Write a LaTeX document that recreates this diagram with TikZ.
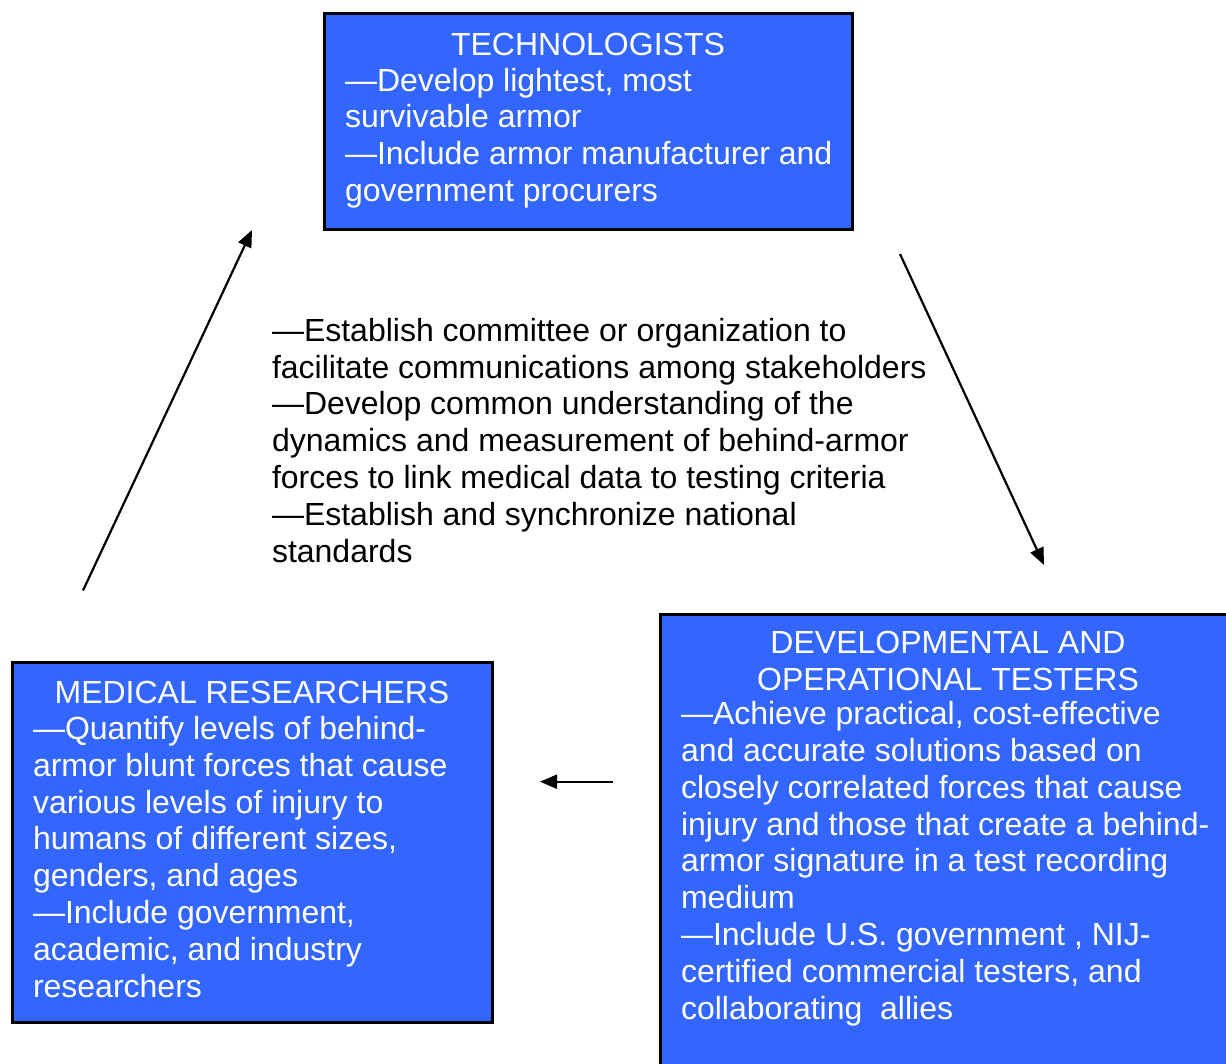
\documentclass[tikz,border=0pt]{standalone}
\usepackage{fontspec}
\setmainfont{Liberation Sans}
\usetikzlibrary{arrows.meta}
\definecolor{boxblue}{HTML}{3366FF}
\begin{document}
\begin{tikzpicture}[x=1pt,y=-1pt,
  boxstyle/.style={draw=black,line width=3pt,fill=boxblue,inner sep=0pt,outer sep=0pt,rectangle},
  txt/.style={font=\fontsize{32}{36.8}\selectfont\frenchspacing,inner sep=0pt,outer sep=0pt},
  wtxt/.style={txt,text=white},
  arr/.style={line width=2.2pt,-{Triangle[length=17pt,width=14pt]}}]
\useasboundingbox (0,0) rectangle (1226,1064);
\clip (0,0) rectangle (1226,1064);
\fill[white] (0,0) rectangle (1226,1064);
% boxes
\node[boxstyle,minimum width=528pt,minimum height=216pt] (tech) at (588,122) {};
\node[boxstyle,minimum width=480pt,minimum height=360pt] (med) at (252,842) {};
\node[boxstyle,minimum width=580pt,minimum height=466pt] (test) at (950.5,847.5) {};
% texts (base anchor = baseline of last line)
\node[wtxt,anchor=base] (techh) at (588,56) {TECHNOLOGISTS};
\node[wtxt,anchor=base west,align=left] (techb) at (345,201.5) {—Develop lightest, most\\survivable armor\\—Include armor manufacturer and\\government procurers};
\node[wtxt,anchor=base] (medh) at (252,703.5) {MEDICAL RESEARCHERS};
\node[wtxt,anchor=base west,align=left] (medb) at (33,997) {—Quantify levels of behind-\\armor blunt forces that cause\\various levels of injury to\\humans of different sizes,\\genders, and ages\\—Include government,\\academic, and industry\\researchers};
\node[wtxt,anchor=base,align=center] (testh) at (948,690) {DEVELOPMENTAL AND\\OPERATIONAL TESTERS};
\node[wtxt,anchor=base west,align=left] (testb) at (681,1019) {—Achieve practical, cost-effective\\and accurate solutions based on\\closely correlated forces that cause\\injury and those that create a behind-\\armor signature in a test recording\\medium\\—Include U.S. government , NIJ-\\certified commercial testers, and\\collaborating\ \ allies};
\node[txt,anchor=base west,align=left] (mid) at (272,562) {—Establish committee or organization to\\facilitate communications among stakeholders\\—Develop common understanding of the\\dynamics and measurement of behind-armor\\forces to link medical data to testing criteria\\—Establish and synchronize national\\standards};
% arrows
\coordinate (a1s) at (83,590.5);
\coordinate (a1e) at (252,230);
\coordinate (a2s) at (900,254);
\coordinate (a2e) at (1044,565);
\coordinate (a3s) at (613,781.7);
\coordinate (a3e) at (540,781.7);
\draw[arr] (a1s) -- (a1e);
\draw[arr] (a2s) -- (a2e);
\draw[arr] (a3s) -- (a3e);
\end{tikzpicture}
\end{document}
